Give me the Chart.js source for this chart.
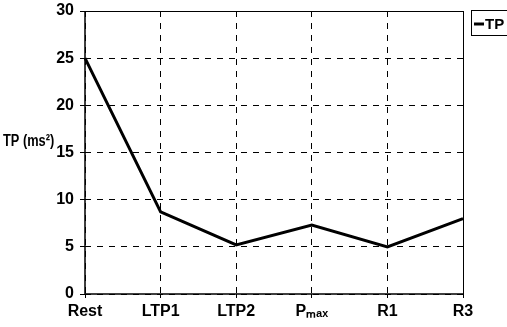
<!DOCTYPE html>
<html>
<head>
<meta charset="utf-8">
<script src="https://cdn.jsdelivr.net/npm/chart.js@4"></script>
<style>
  html, body { margin: 0; padding: 0; background: #fff; }
  #wrap { width: 507px; height: 327px; position: relative; }
</style>
</head>
<body>
<div id="wrap"><canvas id="tpChart"></canvas></div>
<script>
// Dados do gráfico
const stages = ['Rest', 'LTP1', 'LTP2', 'P\u2098\u2090\u2093', 'R1', 'R3'];
const tpValues = [25, 8.7, 5.2, 7.3, 5.0, 8.0];
const seriesName = 'TP';
const yTitle = 'TP (ms\u00b2)';

const fontFamily = "'Liberation Sans Narrow', 'Liberation Sans', Arial, sans-serif";
const labelFont = { family: fontFamily, size: 16, weight: 'bold' };

// Título do eixo Y, legenda e moldura desenhados à mão
const extras = {
    id: 'extras',
    afterDraw(chart) {
        const ctx = chart.ctx;
        const a = chart.chartArea;
        ctx.save();

        // moldura
        ctx.strokeStyle = '#000';
        ctx.lineWidth = 1.5;
        ctx.beginPath();
        ctx.moveTo(a.left, a.top);
        ctx.lineTo(a.left, a.bottom);
        ctx.lineTo(a.right, a.bottom);
        ctx.stroke();
        ctx.lineWidth = 1;
        ctx.beginPath();
        ctx.moveTo(a.left, a.top + 0.5);
        ctx.lineTo(a.right, a.top + 0.5);
        ctx.moveTo(a.right + 0.5, a.top);
        ctx.lineTo(a.right + 0.5, a.bottom);
        ctx.stroke();

        // título do eixo (um pouco condensado)
        ctx.fillStyle = '#000';
        ctx.font = 'bold 16px ' + fontFamily;
        ctx.textBaseline = 'middle';
        ctx.textAlign = 'left';
        ctx.save();
        ctx.translate(3, 142);
        ctx.scale(0.8, 1);
        ctx.fillText(yTitle, 0, 0);
        ctx.restore();

        // legenda
        ctx.lineWidth = 1;
        ctx.strokeRect(471.5, 10.5, 40, 25);
        ctx.lineWidth = 3;
        ctx.beginPath();
        ctx.moveTo(474, 24);
        ctx.lineTo(484, 24);
        ctx.stroke();
        ctx.font = 'bold 15px ' + fontFamily;
        ctx.fillText(seriesName, 485, 25);
        ctx.restore();
    }
};

const tpConfig = {
    type: 'line',
    data: {
        labels: stages,
        datasets: [{
            label: seriesName,
            data: tpValues,
            borderColor: '#000',
            backgroundColor: '#000',
            borderWidth: 3,
            pointRadius: 0,
            tension: 0
        }]
    },
    options: {
        responsive: false,
        animation: false,
        layout: { padding: { top: 11, right: 44, left: 0, bottom: 0 } },
        plugins: {
            legend: { display: false },
            tooltip: { enabled: false }
        },
        scales: {
            x: {
                offset: false,
                grid: { color: '#000', lineWidth: 1, tickLength: 4 },
                border: { display: false, dash: [6, 6] },
                ticks: { color: '#000', font: labelFont, padding: 4, maxRotation: 0 },
                afterFit(scale) { scale.height = 33; scale.paddingLeft = 0; scale.paddingRight = 0; }
            },
            y: {
                min: 0,
                max: 30,
                ticks: { stepSize: 5, color: '#000', font: labelFont, padding: 6 },
                grid: { color: '#000', lineWidth: 1, tickLength: 5 },
                border: { display: false, dash: [6, 6] },
                afterFit(scale) { scale.width = 85; scale.paddingTop = 0; scale.paddingBottom = 0; }
            }
        }
    },
    plugins: [extras]
};

window.onload = function() {
    const canvas = document.getElementById('tpChart');
    canvas.width = 507;
    canvas.height = 327;
    new Chart(canvas.getContext('2d'), tpConfig);
};
</script>
</body>
</html>
